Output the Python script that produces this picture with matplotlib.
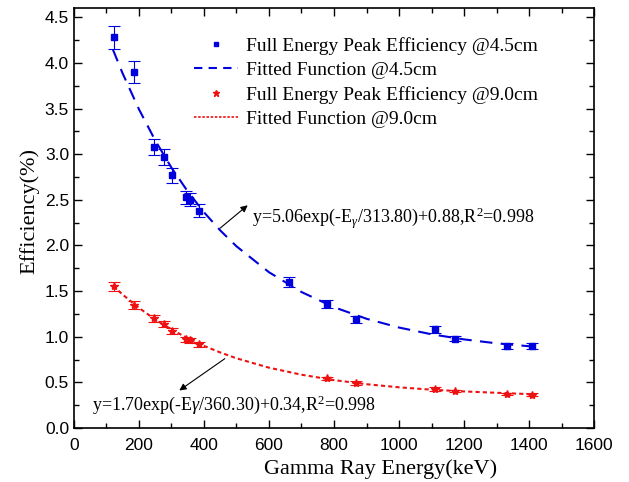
import matplotlib
matplotlib.use("Agg")
import matplotlib.pyplot as plt
from matplotlib.ticker import MultipleLocator
from matplotlib.lines import Line2D

# measured points
energy_45 = [121.78, 186.2, 244.7, 276.4, 302.85, 344.28, 356.01, 383.85, 661.66, 778.9, 867.4, 1112.1, 1173.2, 1332.5, 1408.0]
eff_45 = [4.28, 3.90, 3.08, 2.97, 2.77, 2.53, 2.50, 2.38, 1.60, 1.36, 1.19, 1.08, 0.98, 0.90, 0.90]
err_45 = [0.125, 0.12, 0.09, 0.09, 0.08, 0.07, 0.07, 0.07, 0.05, 0.04, 0.04, 0.04, 0.03, 0.03, 0.03]

energy_90 = [121.78, 186.2, 244.7, 276.4, 302.85, 344.28, 356.01, 383.85, 778.9, 867.4, 1112.1, 1173.2, 1332.5, 1408.0]
eff_90 = [1.555, 1.347, 1.20, 1.14, 1.066, 0.97, 0.96, 0.917, 0.544, 0.49, 0.43, 0.405, 0.372, 0.365]
err_90 = [0.05, 0.04, 0.04, 0.035, 0.035, 0.03, 0.03, 0.03, 0.02, 0.02, 0.02, 0.015, 0.015, 0.015]

# fitted curves
fit_E = [120, 150, 200, 250, 300, 350, 400, 450, 500, 600, 700, 800, 900, 1000, 1100, 1200, 1300, 1410]
fit_45 = [4.145, 3.883, 3.492, 3.151, 2.852, 2.592, 2.364, 2.165, 1.991, 1.707, 1.490, 1.324, 1.197, 1.101, 1.027, 0.971, 0.928, 0.893]
fit_90 = [1.558, 1.461, 1.316, 1.189, 1.079, 0.984, 0.900, 0.828, 0.764, 0.661, 0.584, 0.525, 0.480, 0.446, 0.420, 0.401, 0.386, 0.370]

labels = ["Full Energy Peak Efficiency @4.5cm", "Fitted Function @4.5cm",
          "Full Energy Peak Efficiency @9.0cm", "Fitted Function @9.0cm"]
eq_45 = r"y=5.06exp(-E$_{\gamma}$/313.80)+0.88,R$^{2}$=0.998"
eq_90 = r"y=1.70exp(-E$\gamma$/360.30)+0.34,R$^{2}$=0.998"

serif = ["Liberation Serif", "DejaVu Serif"]
plt.rcParams['font.family'] = ["Liberation Sans", "DejaVu Sans"]
plt.rcParams['mathtext.fontset'] = 'custom'
plt.rcParams['mathtext.rm'] = 'Liberation Serif'
plt.rcParams['mathtext.it'] = 'Liberation Serif:italic'

fig = plt.figure(figsize=(6.29, 4.82), dpi=100)
ax = fig.add_axes([0.1176, 0.112, 0.8268, 0.871])

blue = "#0000dd"
red = "#ee1111"

ax.errorbar(energy_45, eff_45, yerr=err_45, fmt='s', color=blue, ms=4.5,
            ecolor=blue, elinewidth=0.8, capsize=4, capthick=0.8)
ax.plot(fit_E, fit_45, color=blue, lw=1.5, dashes=(6, 4))
ax.errorbar(energy_90, eff_90, yerr=err_90, fmt='*', color=red, ms=6,
            ecolor=red, elinewidth=0.8, capsize=4, capthick=0.8)
ax.plot(fit_E, fit_90, color=red, lw=1.5, dashes=(2, 1.5))

ax.set_xlim(0, 1600)
ax.set_ylim(0, 4.6)
ax.xaxis.set_major_locator(MultipleLocator(200))
ax.xaxis.set_minor_locator(MultipleLocator(100))
ax.yaxis.set_major_locator(MultipleLocator(0.5))
ax.yaxis.set_minor_locator(MultipleLocator(0.25))
ax.tick_params(which='both', direction='in', top=True, right=True, labelsize=12.5)
ax.tick_params(axis='x', which='major', pad=7)
ax.tick_params(which='major', length=6, width=1)
ax.tick_params(which='minor', length=3.5, width=1)
for s in ax.spines.values():
    s.set_linewidth(1.2)

ax.set_xlabel("Gamma Ray Energy(keV)", fontsize=16, family=serif)
ax.set_ylabel("Efficiency(%)", fontsize=16, family=serif)
ax.xaxis.set_label_coords(0.59, -0.075)
ax.yaxis.set_label_coords(-0.067, 0.517)

handles = [Line2D([], [], ls='none', marker='s', ms=3.5, color=blue),
           Line2D([], [], color=blue, lw=1.5, dashes=(4, 3)),
           Line2D([], [], ls='none', marker='*', ms=5, color=red),
           Line2D([], [], color=red, lw=1.2, dashes=(1.5, 1))]
ax.legend(handles=handles, labels=labels, loc='upper left',
          bbox_to_anchor=(0.215, 0.95), frameon=False, handlelength=2.3,
          handletextpad=0.4, labelspacing=0.34, borderaxespad=0,
          prop={'family': serif, 'size': 14})

ax.annotate("", xy=(541, 2.46), xytext=(443, 2.17),
            arrowprops=dict(arrowstyle='-|>', color='black', lw=0.8, mutation_scale=10))
ax.annotate("", xy=(317, 0.394), xytext=(471, 0.777),
            arrowprops=dict(arrowstyle='-|>', color='black', lw=0.8, mutation_scale=10))
ax.text(549, 2.30, eq_45, fontsize=13, family=serif, va='center', ha='left')
ax.text(57, 0.25, eq_90, fontsize=13, family=serif, va='center', ha='left')

fig.savefig("out.png", dpi=100)
